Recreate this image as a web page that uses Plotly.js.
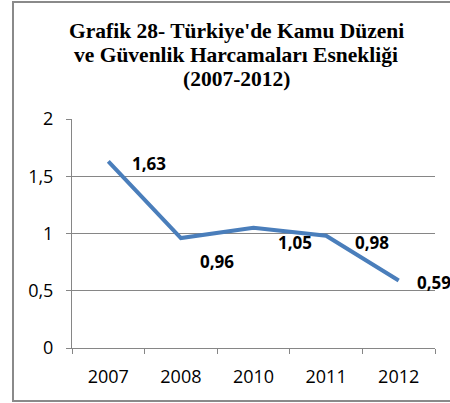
<!DOCTYPE html>
<html>
<head>
<meta charset="utf-8">
<script src="https://cdn.plot.ly/plotly-3.0.1.min.js"></script>
<style>html,body{margin:0;padding:0;background:#fff;}#chart{width:450px;height:403px;}</style>
</head>
<body>
<div id="chart"></div>
<script>
const years = ['2007', '2008', '2010', '2011', '2012'];
const elasticity = [1.63, 0.96, 1.05, 0.98, 0.59];
const labelTexts = ['1,63', '0,96', '1,05', '0,98', '0,59'];
const yTickVals = [0, 0.5, 1, 1.5, 2];
const yTickText = ['0', '0,5', '1', '1,5', '2'];
const titleLines = ["Grafik 28- Türkiye'de Kamu Düzeni", "ve Güvenlik Harcamaları Esnekliği", "(2007-2012)"];

// label offsets (style, px)
const labelDx = [22, 17, 22, 27, 16];
const labelDy = [-2, -23, -15, -7, -2];
// title line vertical centres (px from top of page)
const titleLineY = [30.5, 55.5, 79];

const trace = {
  x: years, y: elasticity, type: 'scatter', mode: 'lines',
  line: {color: '#4a7ebb', width: 4}, hoverinfo: 'none'
};

const plotTop = 119, plotBottom = 348, plotLeft = 72, plotRight = 435;
const plotH = plotBottom - plotTop, plotW = plotRight - plotLeft;

const annotations = years.map((yr, i) => ({
  x: i, y: elasticity[i], xref: 'x', yref: 'y',
  text: '<b>' + labelTexts[i] + '</b>', showarrow: false,
  xanchor: 'left', yanchor: 'middle',
  xshift: labelDx[i], yshift: labelDy[i],
  font: {family: 'Open Sans', size: 17, color: '#000000'}
})).concat(titleLines.map((t, i) => ({
  x: (236 - plotLeft) / plotW, y: (plotBottom - titleLineY[i]) / plotH,
  xref: 'paper', yref: 'paper', xanchor: 'center', yanchor: 'middle',
  text: '<b>' + t + '</b>', showarrow: false,
  font: {family: 'Liberation Serif', size: 21.5, color: '#000000'}
})));

const layout = {
  width: 450, height: 403,
  margin: {l: plotLeft, r: 450 - plotRight, t: plotTop, b: 403 - plotBottom},
  paper_bgcolor: '#fff', plot_bgcolor: '#fff',
  showlegend: false,
  xaxis: {
    type: 'category', range: [-0.5, 4.5],
    showline: true, linecolor: '#868686', linewidth: 1,
    ticks: 'outside', tickson: 'boundaries', ticklen: 5, tickcolor: '#868686',
    showgrid: false, zeroline: false,
    tickfont: {family: 'Open Sans', size: 18, color: '#000'},
    ticklabelstandoff: 12
  },
  yaxis: {
    range: [0, 2], tickvals: yTickVals, ticktext: yTickText,
    showline: true, linecolor: '#868686', linewidth: 1,
    ticks: 'outside', ticklen: 5, tickcolor: '#868686',
    showgrid: true, gridcolor: '#868686', gridwidth: 1, zeroline: false,
    tickfont: {family: 'Open Sans', size: 18, color: '#000'},
    ticklabelstandoff: 9
  },
  annotations: annotations,
  shapes: [{
    type: 'rect', xref: 'paper', yref: 'paper',
    x0: (13 - plotLeft) / plotW, x1: (460 - plotLeft) / plotW,
    y0: (plotBottom - 401) / plotH, y1: (plotBottom - 2) / plotH,
    line: {color: '#8a8a8a', width: 2}, fillcolor: 'rgba(0,0,0,0)', layer: 'below'
  }]
};

Plotly.newPlot('chart', [trace], layout, {displayModeBar: false, staticPlot: true});
</script>
</body>
</html>
